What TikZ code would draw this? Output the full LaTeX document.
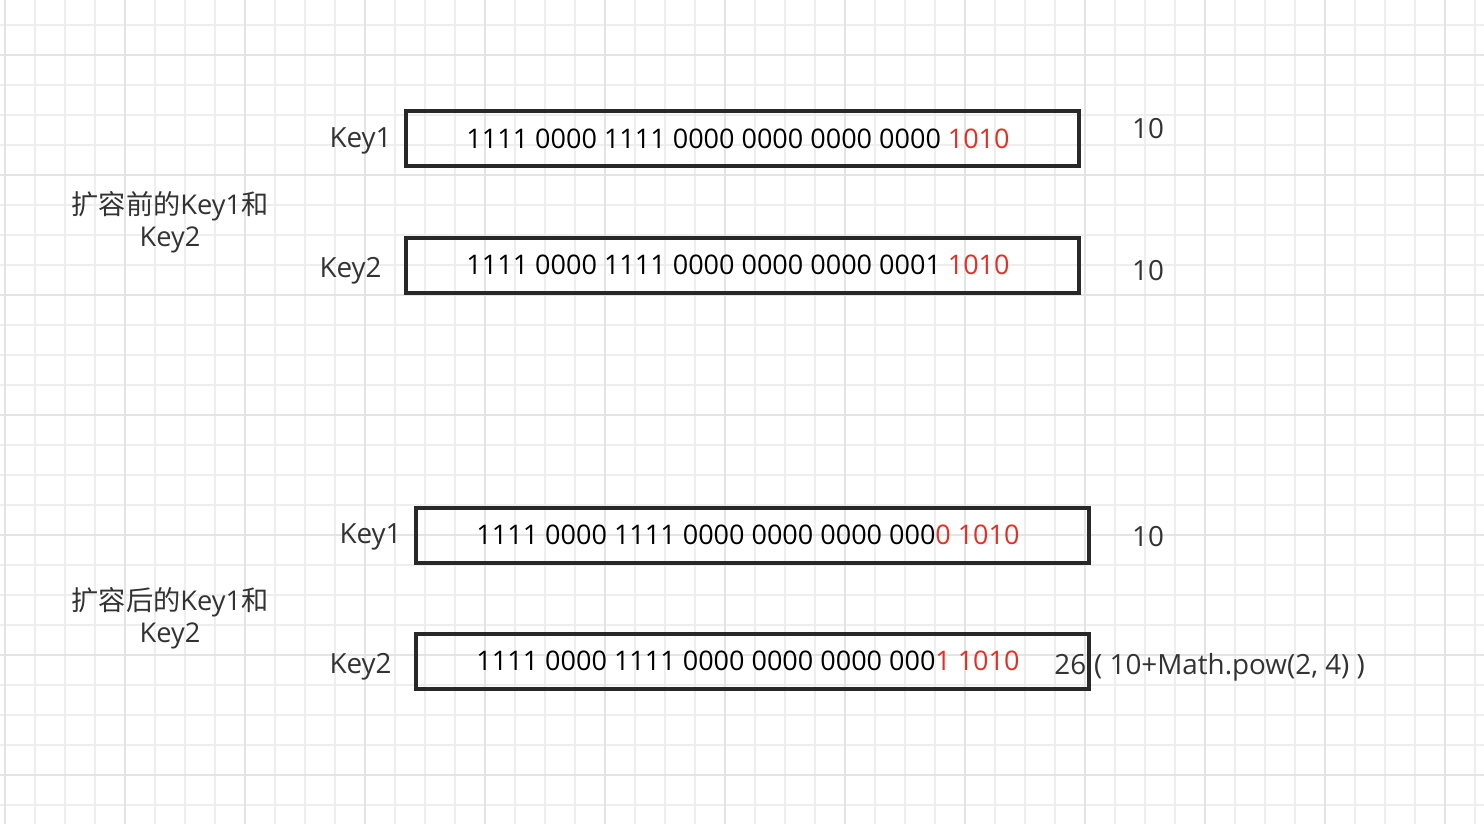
\documentclass[tikz,border=0pt]{standalone}
\usepackage{fontspec}
\setmainfont{Open Sans}
\newfontfamily\cjk{Noto Sans CJK SC}
\usetikzlibrary{positioning}
\definecolor{hired}{RGB}{228,48,36}
\definecolor{lbl}{RGB}{51,51,51}
\definecolor{edge}{RGB}{40,40,40}
\definecolor{gridminor}{RGB}{238,238,238}
\definecolor{gridmajor}{RGB}{228,228,228}
\newcommand{\hi}[1]{\textcolor{hired}{#1}}

\begin{document}
\begin{tikzpicture}[x=0.5pt,y=-0.5pt,
  bits/.style={draw=edge,line width=2pt,minimum width=336.5pt,minimum height=27.5pt,
    inner sep=0pt,font=\fontsize{13.5}{16}\selectfont,text=black},
  keylbl/.style={anchor=east,inner sep=0pt,font=\fontsize{13.9}{16}\selectfont,text=lbl},
  val/.style={inner sep=0pt,font=\fontsize{13.9}{16}\selectfont,text=lbl},
  grp/.style={align=center,inner sep=0pt,font=\fontsize{13.6}{16}\selectfont,text=lbl}]
\useasboundingbox (0,0) rectangle (1484,824);
\fill[white] (0,0) rectangle (1484,824);
% grid paper
\foreach \gx in {5,35,...,1484} \draw[gridminor,line width=1pt] (\gx,0) -- (\gx,824);
\foreach \gy in {25,55,...,824} \draw[gridminor,line width=1pt] (0,\gy) -- (1484,\gy);
\foreach \gx in {5,125,...,1484} \draw[gridmajor,line width=1.2pt] (\gx,0) -- (\gx,824);
\foreach \gy in {55,175,...,824} \draw[gridmajor,line width=1.2pt] (0,\gy) -- (1484,\gy);

% before resize
\node[bits] (oldkey1) at (742,139) {\hspace{-4pt}1111 0000 1111 0000 0000 0000 0000 \hi{1010}};
\node[bits] (oldkey2) at (742,265) {\hspace{-4pt}1111 0000 1111 0000 0000 0000 0001 \hi{1010}};
\node[keylbl] (oldk1) at (392,141) {Key1};
\node[keylbl] (oldk2) at (382,271) {Key2};
\node[val] (oldv1) at (1148,129) {10};
\node[val] (oldv2) at (1148,271) {10};
\node[grp] (before) at (170,222) {{\cjk 扩容前的}Key1{\cjk 和}\\Key2};

% after resize
\node[bits] (newkey1) at (752,535) {\hspace{-4pt}1111 0000 1111 0000 0000 0000 000\hi{0 1010}};
\node[bits] (newkey2) at (752,661) {\hspace{-4pt}1111 0000 1111 0000 0000 0000 000\hi{1 1010}};
\node[keylbl] (newk1) at (402,537) {Key1};
\node[keylbl] (newk2) at (392,667) {Key2};
\node[val] (newv1) at (1148,537) {10};
\node[val,anchor=west] (newv2) at (1054,667) {26\hspace{4pt}( 10+Math.pow(2, 4) )};
\node[grp] (after) at (170,618) {{\cjk 扩容后的}Key1{\cjk 和}\\Key2};
\end{tikzpicture}
\end{document}
